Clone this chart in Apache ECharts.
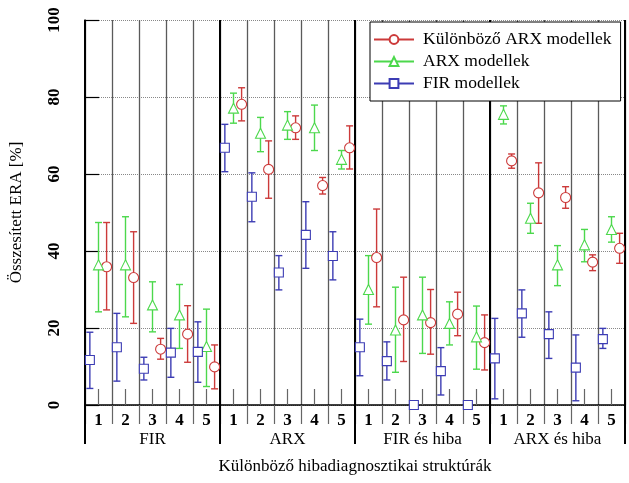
<!DOCTYPE html>
<html>
<head>
<meta charset="utf-8">
<script src="https://cdn.jsdelivr.net/npm/echarts@6/dist/echarts.min.js"></script>
<style>
  html, body { margin: 0; padding: 0; background: #fff; }
  #chart { width: 629px; height: 483px; }
</style>
</head>
<body>
<div id="chart"></div>
<script>
// csoportok és alstruktúrák
const groups = ['FIR', 'ARX', 'FIR és hiba', 'ARX és hiba']
const subLabels = ['1', '2', '3', '4', '5']
const seriesNames = ['Különböző ARX modellek', 'ARX modellek', 'FIR modellek']

// Különböző ARX modellek (piros)
const kulonbozoMean = [35.9, 33.1, 14.5, 18.4, 9.9, 78.1, 61.2, 72.0, 57.0, 66.8, 38.3, 22.1, 21.4, 23.6, 16.2, 63.4, 55.1, 53.9, 37.1, 40.7]
const kulonbozoLow = [24.7, 21.2, 11.9, 11.1, 4.2, 73.8, 53.7, 69.0, 54.8, 61.3, 25.5, 11.3, 13.2, 18.0, 9.1, 61.5, 47.2, 51.1, 34.9, 36.8]
const kulonbozoHigh = [47.4, 45.0, 17.3, 25.8, 15.6, 82.4, 68.6, 75.1, 59.1, 72.5, 50.9, 33.2, 30.0, 29.3, 23.4, 65.2, 62.9, 56.7, 39.0, 44.6]

// ARX modellek (zöld)
const arxMean = [36.4, 36.4, 26.0, 23.4, 15.2, 77.1, 70.6, 72.7, 72.0, 63.8, 30.0, 19.5, 23.4, 21.2, 17.7, 75.5, 48.5, 36.4, 41.6, 45.6]
const arxLow = [24.2, 22.9, 19.0, 14.7, 4.8, 73.2, 65.8, 69.0, 66.1, 61.3, 21.0, 8.5, 13.4, 15.6, 9.3, 73.0, 44.6, 31.0, 37.2, 42.3]
const arxHigh = [47.4, 48.9, 32.0, 31.3, 24.9, 81.0, 74.7, 76.2, 77.9, 66.1, 38.8, 30.6, 33.2, 26.8, 25.7, 77.7, 52.4, 41.4, 45.6, 48.9]

// FIR modellek (kék)
const firMean = [11.7, 15.0, 9.4, 13.6, 13.8, 66.8, 54.1, 34.4, 44.2, 38.7, 15.0, 11.4, 0, 8.8, 0, 12.1, 23.8, 18.4, 9.7, 17.1]
const firLow = [4.3, 6.2, 6.5, 7.2, 5.9, 60.6, 47.6, 29.9, 35.5, 32.5, 7.6, 6.5, 0, 2.6, 0, 1.6, 17.6, 12.1, 1.1, 14.7]
const firHigh = [18.9, 23.8, 12.4, 19.9, 21.6, 72.9, 60.3, 38.8, 52.8, 45.0, 22.3, 16.4, 0, 14.9, 0, 22.5, 29.9, 24.2, 18.2, 19.9]

const font = "'Liberation Serif', 'Times New Roman', serif"
const colors = ['#cc3a3a', '#4cd84c', '#3c3cb4']
const symbols = ['circle', 'triangle', 'rect']
const symbolSizes = [10, 10, 9]
const offsets = [0.3, 0, -0.32] // elemen belüli eltolás

const allSub = groups.flatMap(() => subLabels)

const stats = [
  { mean: kulonbozoMean, low: kulonbozoLow, high: kulonbozoHigh },
  { mean: arxMean, low: arxLow, high: arxHigh },
  { mean: firMean, low: firLow, high: firHigh }
]

// csak a jelmagyarázat ikonjához (vonal + jel)
const legendSeries = seriesNames.map((name, i) => ({
  name,
  type: 'line',
  xAxisIndex: 3,
  yAxisIndex: 0,
  symbol: symbols[i],
  symbolSize: 9,
  data: [],
  itemStyle: { color: '#fff', borderColor: colors[i], borderWidth: 1 },
  lineStyle: { color: colors[i], width: 1.2 }
}))

const errorSeries = stats.map((s, i) => ({
  name: seriesNames[i] + ' hiba',
  type: 'custom',
  xAxisIndex: 3,
  yAxisIndex: 0,
  z: 3,
  data: s.mean.map((_, k) => [k + 0.5 + offsets[i], s.low[k], s.high[k]]),
  renderItem: (params, api) => {
    const lo = api.coord([api.value(0), api.value(1)])
    const hi = api.coord([api.value(0), api.value(2)])
    if (Math.abs(lo[1] - hi[1]) < 1) return null
    const cap = 3.5
    const style = { stroke: colors[i], lineWidth: 1.4 }
    return {
      type: 'group',
      children: [
        { type: 'line', shape: { x1: lo[0], y1: lo[1], x2: hi[0], y2: hi[1] }, style },
        { type: 'line', shape: { x1: hi[0] - cap, y1: hi[1], x2: hi[0] + cap, y2: hi[1] }, style },
        { type: 'line', shape: { x1: lo[0] - cap, y1: lo[1], x2: lo[0] + cap, y2: lo[1] }, style }
      ]
    }
  }
}))

const markerSeries = stats.map((s, i) => ({
  name: seriesNames[i],
  type: 'scatter',
  xAxisIndex: 3,
  yAxisIndex: 0,
  z: 4,
  symbol: symbols[i],
  symbolSize: symbolSizes[i],
  clip: false,
  data: s.mean.map((v, k) => [k + 0.5 + offsets[i], v]),
  itemStyle: { color: '#fff', borderColor: colors[i], borderWidth: 1.1, opacity: 1 }
}))

const chart = echarts.init(document.getElementById('chart'))

const option = {
  animation: false,
  backgroundColor: '#fff',
  textStyle: { fontFamily: font },
  grid: { left: 81, right: 4, top: 20, bottom: 78 },
  legend: {
    orient: 'vertical',
    left: 370,
    top: 22,
    padding: [8, 9, 8, 3],
    itemGap: 3,
    itemWidth: 40,
    itemHeight: 11,
    backgroundColor: '#fff',
    borderColor: '#000',
    borderWidth: 1,
    borderRadius: 0,
    textStyle: { fontFamily: font, fontSize: 17.5, color: '#000', lineHeight: 19, padding: [0, 0, 0, 4] },
    data: seriesNames
  },
  xAxis: [
    {
      // alstruktúra számok
      type: 'category',
      position: 'bottom',
      data: allSub,
      axisLine: { lineStyle: { color: '#000', width: 1.5 } },
      axisTick: { show: true, interval: 0, length: 19, lineStyle: { color: '#666', width: 1.2 } },
      axisLabel: { interval: 0, margin: 7, fontFamily: font, fontSize: 17, fontWeight: 'bold', color: '#000' },
      splitLine: { show: true, interval: 0, lineStyle: { color: '#5a5a5a', width: 1.3 } }
    },
    {
      // rövid középső jelölők
      type: 'category',
      position: 'bottom',
      data: allSub,
      axisLine: { show: false },
      axisTick: { show: true, inside: true, alignWithLabel: true, interval: 0, length: 16, lineStyle: { color: '#666', width: 1.2 } },
      axisLabel: { show: false },
      splitLine: { show: false }
    },
    {
      // csoportok
      type: 'category',
      position: 'bottom',
      data: groups,
      name: 'Különböző hibadiagnosztikai struktúrák',
      nameLocation: 'middle',
      nameGap: 53,
      nameTextStyle: { fontFamily: font, fontSize: 17, color: '#000' },
      axisLine: { show: false },
      axisTick: { show: true, interval: 0, length: 39, lineStyle: { color: '#000', width: 2 } },
      axisLabel: { interval: 0, margin: 26, fontFamily: font, fontSize: 17, color: '#000' },
      splitLine: { show: true, interval: 0, lineStyle: { color: '#000', width: 2 } }
    },
    {
      type: 'value',
      min: 0,
      max: 20,
      show: false
    }
  ],
  yAxis: {
    type: 'value',
    min: 0,
    max: 100,
    interval: 20,
    offset: 14,
    name: 'Összesített ERA [%]',
    nameLocation: 'middle',
    nameGap: 46,
    nameTextStyle: { fontFamily: font, fontSize: 17, color: '#000' },
    axisLine: { show: true, lineStyle: { color: '#000', width: 1.5 } },
    axisTick: { show: true, inside: true, length: 14, lineStyle: { color: '#000', width: 1.2 } },
    axisLabel: { rotate: 90, margin: 8, fontFamily: font, fontSize: 17, fontWeight: 'bold', color: '#000' },
    splitLine: { show: true, lineStyle: { color: '#888', type: 'dotted', width: 1 } }
  },
  series: [...legendSeries, ...errorSeries, ...markerSeries]
}

chart.setOption(option)
</script>
</body>
</html>
